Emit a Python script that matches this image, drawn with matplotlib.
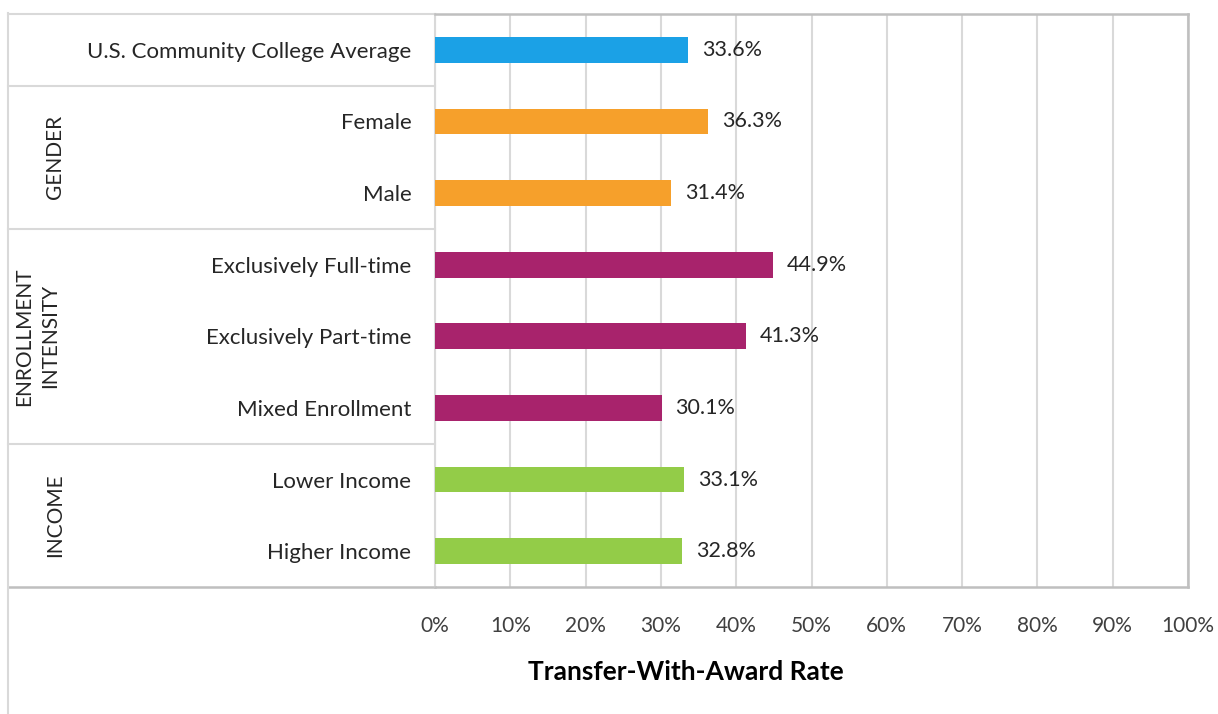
import numpy as np
import matplotlib.pyplot as plt
import matplotlib.transforms as mtransforms

plt.rcParams['font.family'] = ['Lato', 'DejaVu Sans']

# Data
categories = ['U.S. Community College Average', 'Female', 'Male',
              'Exclusively Full-time', 'Exclusively Part-time', 'Mixed Enrollment',
              'Lower Income', 'Higher Income']
rates = [33.6, 36.3, 31.4, 44.9, 41.3, 30.1, 33.1, 32.8]
bar_colors = ['#1ba1e6', '#f6a02b', '#f6a02b', '#a8236c', '#a8236c', '#a8236c',
              '#93cc48', '#93cc48']
groups = ['GENDER', 'ENROLLMENT\nINTENSITY', 'INCOME']
group_spans = [(1, 2), (3, 5), (6, 7)]
ticks = np.arange(0, 101, 10)

W, H = 1218, 714
fig = plt.figure(figsize=(W / 100, H / 100), dpi=100)
left, right, top, bottom = 435, 1188, 14, 587
ax = fig.add_axes([left / W, 1 - bottom / H, (right - left) / W, (bottom - top) / H])

y = np.arange(len(categories))
ax.barh(y, rates, height=0.36, color=bar_colors, zorder=3)
ax.set_ylim(len(categories) - 0.5, -0.5)
ax.set_xlim(0, 100)

ax.set_xticks(ticks)
ax.set_xticklabels([f'{t}%' for t in ticks], fontsize=15, color='#404040')
ax.tick_params(axis='x', length=0, pad=21)
ax.set_yticks(y)
ax.set_yticklabels(categories, fontsize=16, color='#262626')
ax.tick_params(axis='y', length=0, pad=17)
ax.grid(axis='x', color='#d9d9d9', linewidth=1.5, zorder=0)

for s in ['top', 'right', 'bottom']:
    ax.spines[s].set_color('#bfbfbf')
    ax.spines[s].set_linewidth(1.8)
ax.spines['left'].set_color('#d9d9d9')
ax.spines['left'].set_linewidth(1.5)

for yi, v in zip(y, rates):
    ax.annotate(f'{v}%', (v, yi), xytext=(10, 0), textcoords='offset points',
                va='center', ha='left', fontsize=15.5, color='#262626')

# Group boxes in the label area
trans = mtransforms.blended_transform_factory(ax.transAxes, ax.transData)
xl = (8 - left) / (right - left)
for yb in [-0.5, 0.5, 2.5, 5.5]:
    ax.plot([xl, 0], [yb, yb], transform=trans, color='#d9d9d9', lw=1.5, clip_on=False)
ax.plot([xl, 0], [7.5, 7.5], transform=trans, color='#bfbfbf', lw=1.8, clip_on=False)
fig.add_artist(plt.Line2D([8 / W, 8 / W], [0, 1 - 13 / H], color='#d9d9d9', lw=1.5))

group_x = [55, 37, 55]
for g, (a, b), gx in zip(groups, group_spans, group_x):
    ax.text((gx - left) / (right - left), (a + b) / 2, g, transform=trans,
            rotation=90, ha='center', va='center', fontsize=15, color='#262626',
            linespacing=1.35)

fig.text(686 / W, 1 - 672 / H, 'Transfer-With-Award Rate', ha='center', va='center',
         fontsize=19, fontweight='bold', color='#000000')

fig.savefig('out.png', dpi=100)
